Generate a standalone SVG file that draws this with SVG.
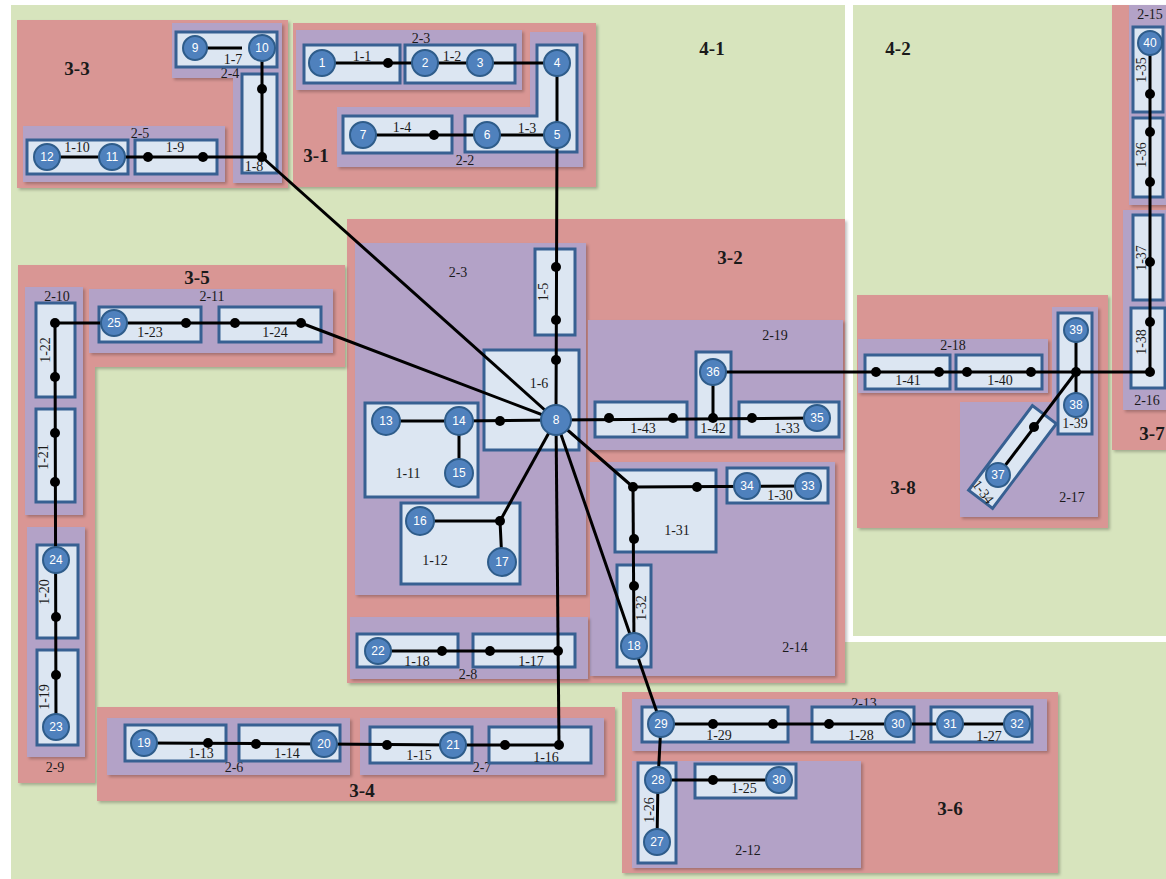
<svg xmlns="http://www.w3.org/2000/svg" width="1166" height="879" viewBox="0 0 1166 879">
<defs>
<filter id="sh" x="-5%" y="-5%" width="115%" height="115%"><feDropShadow dx="2" dy="2" stdDeviation="1.5" flood-color="#000" flood-opacity="0.25"/></filter>
</defs>
<style>
.g{fill:#d7e4bd}
.r{fill:#d99694;filter:url(#sh)}
.p{fill:#b3a2c7;filter:url(#sh)}
.b{fill:#dce6f2;stroke:#376092;stroke-width:3}
.ln{fill:none;stroke:#000;stroke-width:3;stroke-linejoin:round}
.d{fill:#000}
.n circle{fill:#4f81bd;stroke:#2e5c8a;stroke-width:2}
.n text{fill:#fff;font-family:"Liberation Sans",Arial,sans-serif;font-size:12px;text-anchor:middle;dominant-baseline:central}
.t{font-family:"Liberation Serif","Times New Roman",serif;font-size:14px;fill:#1a1a1a;text-anchor:middle;dominant-baseline:central}
.T{font-family:"Liberation Serif","Times New Roman",serif;font-size:19px;font-weight:bold;fill:#1a1a1a;text-anchor:middle;dominant-baseline:central}
</style>
<rect width="1166" height="879" fill="#fff"/>
<g id="region-4-1"><polygon class="g" points="11,5 845,5 845,642 1166,642 1166,879 11,879"/><text class="T" x="712" y="48">4-1</text></g>
<g id="region-4-2"><rect class="g" x="853" y="5" width="313" height="631"/><text class="T" x="898" y="48">4-2</text></g>

<g id="region-3-3"><rect class="r" x="17" y="20" width="271" height="168"/><text class="T" x="77" y="68">3-3</text></g>
<g id="region-3-1"><rect class="r" x="293" y="23" width="303" height="164"/><text class="T" x="316" y="155">3-1</text></g>
<g id="region-3-2"><rect class="r" x="347" y="219" width="498" height="464"/><text class="T" x="730" y="257">3-2</text></g>
<g id="region-3-5"><polygon class="r" points="18,265 345,265 345,367 95,367 95,783 18,783"/><text class="T" x="197" y="277">3-5</text></g>
<g id="region-3-4"><rect class="r" x="97" y="707" width="518" height="94"/><text class="T" x="362" y="790">3-4</text></g>
<g id="region-3-6"><rect class="r" x="622" y="692" width="436" height="181"/><text class="T" x="950" y="808">3-6</text></g>
<g id="region-3-8"><rect class="r" x="857" y="295" width="251" height="233"/><text class="T" x="903" y="487">3-8</text></g>
<g id="region-3-7"><rect class="r" x="1112" y="5" width="54" height="445"/><text class="T" x="1152" y="433">3-7</text></g>

<g id="region-2-4"><polygon class="p" points="172,23 282,23 282,183 233,183 233,78 172,78"/><text class="t" x="230" y="73">2-4</text></g>
<g id="region-2-5"><rect class="p" x="23" y="126" width="202" height="56"/><text class="t" x="140" y="133">2-5</text></g>
<g id="region-2-3a"><rect class="p" x="296" y="30" width="226" height="60"/><text class="t" x="421" y="38">2-3</text></g>
<g id="region-2-2"><polygon class="p" points="530,32 583,32 583,167 337,167 337,107 530,107"/><text class="t" x="465" y="160">2-2</text></g>
<g id="region-2-3b"><rect class="p" x="355" y="243" width="231" height="352"/><text class="t" x="458" y="272">2-3</text></g>
<g id="region-2-19"><rect class="p" x="588" y="320" width="255" height="130"/><text class="t" x="775" y="335">2-19</text></g>
<g id="region-2-14"><rect class="p" x="590" y="462" width="245" height="214"/><text class="t" x="795" y="647">2-14</text></g>
<g id="region-2-8"><rect class="p" x="350" y="617" width="238" height="62"/><text class="t" x="468" y="674">2-8</text></g>
<g id="region-2-10"><rect class="p" x="25" y="287" width="58" height="228"/><text class="t" x="57" y="296">2-10</text></g>
<g id="region-2-11"><rect class="p" x="89" y="289" width="244" height="64"/><text class="t" x="212" y="296">2-11</text></g>
<g id="region-2-9"><rect class="p" x="27" y="527" width="58" height="230"/><text class="t" x="55" y="767">2-9</text></g>
<g id="region-2-6"><rect class="p" x="107" y="718" width="243" height="57"/><text class="t" x="234" y="767">2-6</text></g>
<g id="region-2-7"><rect class="p" x="360" y="718" width="244" height="57"/><text class="t" x="482" y="767">2-7</text></g>
<g id="region-2-13"><rect class="p" x="632" y="699" width="415" height="52"/><text class="t" x="864" y="703">2-13</text></g>
<g id="region-2-12"><rect class="p" x="632" y="761" width="229" height="107"/><text class="t" x="748" y="850">2-12</text></g>
<g id="region-2-18"><rect class="p" x="858" y="339" width="190" height="54"/><text class="t" x="953" y="345">2-18</text></g>
<g id="region-2-17"><polygon class="p" points="1052,307 1098,307 1098,517 960,517 960,402 1052,402"/><text class="t" x="1072" y="497">2-17</text></g>
<g id="region-2-15"><rect class="p" x="1129" y="5" width="37" height="200"/><text class="t" x="1150" y="14">2-15</text></g>
<g id="region-2-16"><rect class="p" x="1123" y="210" width="43" height="200"/><text class="t" x="1147" y="400">2-16</text></g>

<g id="boxes">
<g id="box-1-7"><rect class="b" x="176" y="32" width="101" height="35"/><text class="t" x="233" y="59">1-7</text></g>
<g id="box-1-8"><rect class="b" x="242" y="74" width="35" height="99"/><text class="t" x="254" y="166">1-8</text></g>
<g id="box-1-10"><rect class="b" x="27" y="140" width="101" height="34"/><text class="t" x="77" y="147">1-10</text></g>
<g id="box-1-9"><rect class="b" x="135" y="140" width="82" height="34"/><text class="t" x="175" y="147">1-9</text></g>
<g id="box-1-1"><rect class="b" x="304" y="45" width="96" height="38"/><text class="t" x="362" y="56">1-1</text></g>
<g id="box-1-2"><rect class="b" x="405" y="45" width="110" height="38"/><text class="t" x="452" y="56">1-2</text></g>
<g id="box-1-3"><polygon class="b" points="537,45 577,45 577,152 465,152 465,116 537,116"/><text class="t" x="527" y="128">1-3</text></g>
<g id="box-1-4"><rect class="b" x="343" y="116" width="109" height="37"/><text class="t" x="402" y="127">1-4</text></g>
<g id="box-1-5"><rect class="b" x="535" y="249" width="40" height="86"/><text class="t" transform="translate(543,292) rotate(-90)">1-5</text></g>
<g id="box-1-6"><rect class="b" x="484" y="350" width="95" height="100"/><text class="t" x="539" y="383">1-6</text></g>
<g id="box-1-11"><rect class="b" x="365" y="403" width="113" height="94"/><text class="t" x="408" y="473">1-11</text></g>
<g id="box-1-12"><rect class="b" x="401" y="503" width="119" height="81"/><text class="t" x="435" y="560">1-12</text></g>
<g id="box-1-18"><rect class="b" x="357" y="634" width="101" height="33"/><text class="t" x="417" y="661">1-18</text></g>
<g id="box-1-17"><rect class="b" x="473" y="634" width="102" height="33"/><text class="t" x="531" y="661">1-17</text></g>
<g id="box-1-43"><rect class="b" x="595" y="402" width="92" height="35"/><text class="t" x="643" y="428">1-43</text></g>
<g id="box-1-42"><rect class="b" x="696" y="352" width="35" height="85"/><text class="t" x="713" y="428">1-42</text></g>
<g id="box-1-33"><rect class="b" x="739" y="402" width="100" height="35"/><text class="t" x="787" y="428">1-33</text></g>
<g id="box-1-31"><rect class="b" x="615" y="470" width="101" height="82"/><text class="t" x="677" y="530">1-31</text></g>
<g id="box-1-30"><rect class="b" x="727" y="468" width="101" height="35"/><text class="t" x="780" y="495">1-30</text></g>
<g id="box-1-32"><rect class="b" x="617" y="565" width="34" height="102"/><text class="t" transform="translate(641,608) rotate(-90)">1-32</text></g>
<g id="box-1-22"><rect class="b" x="36" y="303" width="39" height="94"/><text class="t" transform="translate(45,350) rotate(-90)">1-22</text></g>
<g id="box-1-21"><rect class="b" x="36" y="409" width="39" height="93"/><text class="t" transform="translate(43,457) rotate(-90)">1-21</text></g>
<g id="box-1-20"><rect class="b" x="37" y="545" width="41" height="93"/><text class="t" transform="translate(44,592) rotate(-90)">1-20</text></g>
<g id="box-1-19"><rect class="b" x="37" y="650" width="41" height="95"/><text class="t" transform="translate(44,697) rotate(-90)">1-19</text></g>
<g id="box-1-23"><rect class="b" x="99" y="307" width="102" height="35"/><text class="t" x="150" y="332">1-23</text></g>
<g id="box-1-24"><rect class="b" x="219" y="307" width="102" height="35"/><text class="t" x="275" y="332">1-24</text></g>
<g id="box-1-13"><rect class="b" x="125" y="725" width="101" height="36"/><text class="t" x="201" y="753">1-13</text></g>
<g id="box-1-14"><rect class="b" x="239" y="725" width="101" height="36"/><text class="t" x="287" y="753">1-14</text></g>
<g id="box-1-15"><rect class="b" x="370" y="727" width="102" height="36"/><text class="t" x="419" y="755">1-15</text></g>
<g id="box-1-16"><rect class="b" x="489" y="727" width="102" height="36"/><text class="t" x="546" y="757">1-16</text></g>
<g id="box-1-29"><rect class="b" x="642" y="707" width="146" height="35"/><text class="t" x="719" y="735">1-29</text></g>
<g id="box-1-28"><rect class="b" x="812" y="707" width="102" height="35"/><text class="t" x="861" y="735">1-28</text></g>
<g id="box-1-27"><rect class="b" x="931" y="707" width="101" height="35"/><text class="t" x="989" y="736">1-27</text></g>
<g id="box-1-25"><rect class="b" x="695" y="764" width="101" height="34"/><text class="t" x="744" y="788">1-25</text></g>
<g id="box-1-26"><rect class="b" x="638" y="763" width="38" height="100"/><text class="t" transform="translate(649,810) rotate(-90)">1-26</text></g>
<g id="box-1-41"><rect class="b" x="865" y="355" width="85" height="34"/><text class="t" x="908" y="380">1-41</text></g>
<g id="box-1-40"><rect class="b" x="956" y="355" width="86" height="34"/><text class="t" x="1000" y="380">1-40</text></g>
<g id="box-1-39"><rect class="b" x="1058" y="313" width="34" height="121"/><text class="t" x="1075" y="423">1-39</text></g>
<g id="box-1-34"><rect class="b" x="-53" y="-15" width="106" height="30" transform="translate(1012.5,457) rotate(-53)"/><text class="t" transform="translate(983,492) rotate(53)">1-34</text></g>
<g id="box-1-35"><rect class="b" x="1133" y="27" width="30" height="85"/><text class="t" transform="translate(1141,70) rotate(-90)">1-35</text></g>
<g id="box-1-36"><rect class="b" x="1133" y="118" width="30" height="79"/><text class="t" transform="translate(1141,155) rotate(-90)">1-36</text></g>
<g id="box-1-37"><rect class="b" x="1133" y="215" width="30" height="85"/><text class="t" transform="translate(1141,258) rotate(-90)">1-37</text></g>
<g id="box-1-38"><rect class="b" x="1131" y="308" width="34" height="80"/><text class="t" transform="translate(1141,342) rotate(-90)">1-38</text></g>
</g>

<g id="connectors">
<polyline class="ln" points="322,63 557,63 557,135"/>
<polyline class="ln" points="363,135 557,135 556,420"/>
<line class="ln" x1="195" y1="48" x2="242" y2="48"/>
<polyline class="ln" points="262,48 262,157 47,157"/>
<line class="ln" x1="262" y1="157" x2="556" y2="420"/>
<polyline class="ln" points="386,421 459,421 459,473"/>
<line class="ln" x1="459" y1="421" x2="556" y2="420"/>
<line class="ln" x1="556" y1="420" x2="500" y2="521"/>
<polyline class="ln" points="420,521 500,521 502,562"/>
<line class="ln" x1="556" y1="420" x2="559" y2="745"/>
<line class="ln" x1="378" y1="651" x2="558" y2="651"/>
<polyline class="ln" points="144,743 324,744 453,745 559,745"/>
<polyline class="ln" points="56,727 55,323 301,323 556,420"/>
<line class="ln" x1="556" y1="420" x2="817" y2="418"/>
<line class="ln" x1="713" y1="372" x2="713" y2="418"/>
<polyline class="ln" points="713,372 1150,372 1150,43"/>
<line class="ln" x1="1076" y1="330" x2="1076" y2="405"/>
<line class="ln" x1="1076" y1="372" x2="998" y2="475"/>
<polyline class="ln" points="556,420 633,487 808,486"/>
<line class="ln" x1="633" y1="487" x2="634" y2="646"/>
<line class="ln" x1="556" y1="420" x2="661" y2="724"/>
<line class="ln" x1="661" y1="724" x2="1017" y2="724"/>
<polyline class="ln" points="661,724 658,780 657,842"/>
<line class="ln" x1="658" y1="780" x2="779" y2="780"/>
<g class="d">
<circle cx="388" cy="63" r="5"/><circle cx="434" cy="135" r="5"/>
<circle cx="262" cy="89" r="5"/><circle cx="262" cy="157" r="5"/><circle cx="148" cy="157" r="5"/><circle cx="203" cy="157" r="5"/>
<circle cx="556" cy="267" r="5"/><circle cx="556" cy="320" r="5"/><circle cx="556" cy="360" r="5"/>
<circle cx="500" cy="421" r="5"/><circle cx="500" cy="521" r="5"/>
<circle cx="442" cy="651" r="5"/><circle cx="490" cy="651" r="5"/><circle cx="558" cy="651" r="5"/>
<circle cx="208" cy="743" r="5"/><circle cx="256" cy="744" r="5"/><circle cx="387" cy="745" r="5"/><circle cx="505" cy="745" r="5"/><circle cx="559" cy="745" r="5"/>
<circle cx="55" cy="323" r="5"/><circle cx="186" cy="323" r="5"/><circle cx="235" cy="323" r="5"/><circle cx="301" cy="323" r="5"/>
<circle cx="55" cy="377" r="5"/><circle cx="55" cy="433" r="5"/><circle cx="55" cy="482" r="5"/><circle cx="56" cy="617" r="5"/><circle cx="56" cy="675" r="5"/>
<circle cx="609" cy="418" r="5"/><circle cx="673" cy="418" r="5"/><circle cx="713" cy="418" r="5"/><circle cx="752" cy="418" r="5"/>
<circle cx="876" cy="372" r="5"/><circle cx="939" cy="372" r="5"/><circle cx="967" cy="372" r="5"/><circle cx="1031" cy="372" r="5"/><circle cx="1076" cy="372" r="5"/><circle cx="1150" cy="372" r="5"/>
<circle cx="1034" cy="427" r="5"/>
<circle cx="1150" cy="94" r="5"/><circle cx="1150" cy="132" r="5"/><circle cx="1150" cy="182" r="5"/><circle cx="1150" cy="262" r="5"/><circle cx="1150" cy="322" r="5"/>
<circle cx="633" cy="487" r="5"/><circle cx="697" cy="487" r="5"/><circle cx="634" cy="539" r="5"/><circle cx="634" cy="586" r="5"/>
<circle cx="713" cy="724" r="5"/><circle cx="773" cy="724" r="5"/><circle cx="829" cy="724" r="5"/><circle cx="713" cy="780" r="5"/>
</g>
</g>

<g id="node-1" class="n"><circle cx="322" cy="63" r="13"/><text x="322" y="63">1</text></g>
<g id="node-2" class="n"><circle cx="425" cy="63" r="13"/><text x="425" y="63">2</text></g>
<g id="node-3" class="n"><circle cx="480" cy="63" r="13"/><text x="480" y="63">3</text></g>
<g id="node-4" class="n"><circle cx="557" cy="63" r="13"/><text x="557" y="63">4</text></g>
<g id="node-5" class="n"><circle cx="557" cy="135" r="13"/><text x="557" y="135">5</text></g>
<g id="node-6" class="n"><circle cx="487" cy="135" r="13"/><text x="487" y="135">6</text></g>
<g id="node-7" class="n"><circle cx="363" cy="135" r="13"/><text x="363" y="135">7</text></g>
<g id="node-8" class="n"><circle cx="556" cy="420" r="15"/><text x="556" y="420">8</text></g>
<g id="node-9" class="n"><circle cx="195" cy="48" r="12"/><text x="195" y="48">9</text></g>
<g id="node-10" class="n"><circle cx="262" cy="48" r="13"/><text x="262" y="48">10</text></g>
<g id="node-11" class="n"><circle cx="112" cy="157" r="13"/><text x="112" y="157">11</text></g>
<g id="node-12" class="n"><circle cx="47" cy="157" r="13"/><text x="47" y="157">12</text></g>
<g id="node-13" class="n"><circle cx="386" cy="421" r="14"/><text x="386" y="421">13</text></g>
<g id="node-14" class="n"><circle cx="459" cy="421" r="14"/><text x="459" y="421">14</text></g>
<g id="node-15" class="n"><circle cx="459" cy="473" r="14"/><text x="459" y="473">15</text></g>
<g id="node-16" class="n"><circle cx="420" cy="521" r="14"/><text x="420" y="521">16</text></g>
<g id="node-17" class="n"><circle cx="502" cy="562" r="14"/><text x="502" y="562">17</text></g>
<g id="node-18" class="n"><circle cx="634" cy="646" r="13"/><text x="634" y="646">18</text></g>
<g id="node-19" class="n"><circle cx="144" cy="743" r="13"/><text x="144" y="743">19</text></g>
<g id="node-20" class="n"><circle cx="324" cy="744" r="13"/><text x="324" y="744">20</text></g>
<g id="node-21" class="n"><circle cx="453" cy="745" r="13"/><text x="453" y="745">21</text></g>
<g id="node-22" class="n"><circle cx="378" cy="651" r="13"/><text x="378" y="651">22</text></g>
<g id="node-23" class="n"><circle cx="56" cy="727" r="13"/><text x="56" y="727">23</text></g>
<g id="node-24" class="n"><circle cx="56" cy="560" r="13"/><text x="56" y="560">24</text></g>
<g id="node-25" class="n"><circle cx="114" cy="323" r="13"/><text x="114" y="323">25</text></g>
<g id="node-27" class="n"><circle cx="657" cy="842" r="13"/><text x="657" y="842">27</text></g>
<g id="node-28" class="n"><circle cx="658" cy="780" r="13"/><text x="658" y="780">28</text></g>
<g id="node-29" class="n"><circle cx="661" cy="724" r="13"/><text x="661" y="724">29</text></g>
<g id="node-30a" class="n"><circle cx="898" cy="724" r="13"/><text x="898" y="724">30</text></g>
<g id="node-31" class="n"><circle cx="950" cy="724" r="13"/><text x="950" y="724">31</text></g>
<g id="node-32" class="n"><circle cx="1017" cy="724" r="13"/><text x="1017" y="724">32</text></g>
<g id="node-30b" class="n"><circle cx="779" cy="780" r="13"/><text x="779" y="780">30</text></g>
<g id="node-33" class="n"><circle cx="808" cy="486" r="13"/><text x="808" y="486">33</text></g>
<g id="node-34" class="n"><circle cx="747" cy="486" r="13"/><text x="747" y="486">34</text></g>
<g id="node-35" class="n"><circle cx="817" cy="418" r="13"/><text x="817" y="418">35</text></g>
<g id="node-36" class="n"><circle cx="713" cy="372" r="13"/><text x="713" y="372">36</text></g>
<g id="node-37" class="n"><circle cx="998" cy="475" r="12"/><text x="998" y="475">37</text></g>
<g id="node-38" class="n"><circle cx="1076" cy="405" r="12"/><text x="1076" y="405">38</text></g>
<g id="node-39" class="n"><circle cx="1076" cy="330" r="12"/><text x="1076" y="330">39</text></g>
<g id="node-40" class="n"><circle cx="1150" cy="43" r="12"/><text x="1150" y="43">40</text></g>
</svg>
